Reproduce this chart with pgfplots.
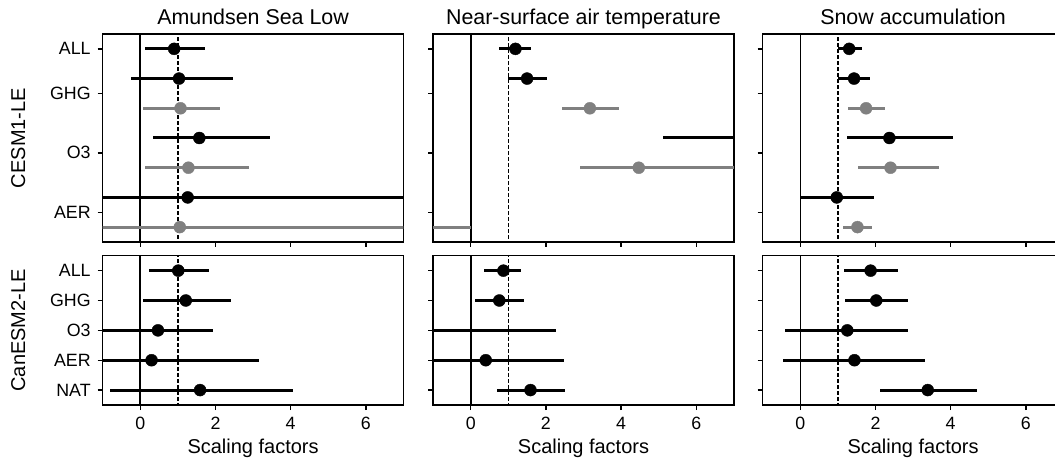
\documentclass[border=0pt]{standalone}
\usepackage{fontspec}
\setmainfont{Liberation Sans}
\usepackage{pgfplots}
\usepackage{pgfplotstable}
\pgfplotsset{compat=1.18}
\definecolor{gr}{RGB}{128,128,128}

% columns: y = row position, lo/hi = range, c = centre, m = marker (nan = not visible)
% ---- CESM1-LE, Amundsen Sea Low
\pgfplotstableread{
y lo c hi m
0 0.13 0.90 1.73 0.90
1 -0.25 1.03 2.47 1.03
3 0.35 1.57 3.45 1.57
5 -3 1.26 9 1.26
}\asltb
\pgfplotstableread{
y lo c hi m
2 0.06 1.07 2.13 1.07
4 0.13 1.28 2.88 1.28
6 -3 1.05 9 1.05
}\asltg
% ---- CESM1-LE, Near-surface air temperature
\pgfplotstableread{
y lo c hi m
0 0.76 1.19 1.61 1.19
1 1.00 1.50 2.02 1.50
3 5.12 7.5 9 nan
}\tastb
\pgfplotstableread{
y lo c hi m
2 2.44 3.17 3.94 3.17
4 2.92 4.47 9 4.47
6 -3 -1.5 0.00 nan
}\tastg
% ---- CESM1-LE, Snow accumulation
\pgfplotstableread{
y lo c hi m
0 0.99 1.30 1.63 1.30
1 0.99 1.43 1.85 1.43
3 1.25 2.37 4.07 2.37
5 0.00 0.97 1.95 0.97
}\snotb
\pgfplotstableread{
y lo c hi m
2 1.26 1.75 2.25 1.75
4 1.53 2.40 3.70 2.40
6 1.14 1.52 1.91 1.52
}\snotg
% ---- CanESM2-LE
\pgfplotstableread{
y lo c hi m
0 0.22 1.01 1.82 1.01
1 0.07 1.21 2.41 1.21
2 -3 0.47 1.94 0.47
3 -3 0.30 3.16 0.30
4 -0.80 1.59 4.06 1.59
}\aslbb
\pgfplotstableread{
y lo c hi m
0 0.36 0.87 1.35 0.87
1 0.12 0.76 1.42 0.76
2 -3 -1.5 2.27 nan
3 -3 0.40 2.47 0.40
4 0.70 1.59 2.50 1.59
}\tasbb
\pgfplotstableread{
y lo c hi m
0 1.17 1.87 2.59 1.87
1 1.20 2.02 2.87 2.02
2 -0.40 1.25 2.87 1.25
3 -0.46 1.44 3.32 1.44
4 2.13 3.39 4.70 3.39
}\snobb

\newcommand\bars[2]{%
  \addplot[only marks, mark=none, color=#1,
    error bars/.cd, x dir=both, x explicit, error mark=none,
    error bar style={draw=#1, line width=1.5pt}]
    table[x=c, y=y, x error plus expr=\thisrow{hi}-\thisrow{c},
          x error minus expr=\thisrow{c}-\thisrow{lo}] {#2};
  \addplot[only marks, mark=*, mark size=3pt, color=#1, mark options={solid, draw=#1, fill=#1, line width=0.2pt}]
    table[x=m, y=y] {#2};
}
\newcommand\refs{%
  \addplot[black, line width=0.8pt] coordinates {(0,-1) (0,8)};
  \addplot[black, line width=0.75pt, dash pattern=on 2pt off 1pt] coordinates {(1,-1) (1,8)};
}

\pgfplotsset{
  panel/.style={scale only axis, width=150.4pt, xmin=-1, xmax=7, xtick={0,2,4,6},
    y dir=reverse, axis line style={line width=0.7pt},
    tick style={line width=0.7pt, black}, major tick length=2.5pt, tick align=outside,
    xtick pos=bottom, ytick pos=left, clip=true,
    /pgf/number format/assume math mode=true,
    ticklabel style={font=\fontsize{8.9}{10}\selectfont},
    label style={font=\fontsize{8.8}{10}\selectfont},
    every axis title/.style={font=\fontsize{10.7}{12}\selectfont, at={(0.5,1)}, anchor=base, yshift=5pt},
    every axis x label/.style={at={(axis description cs:0.5,0)}, anchor=base, yshift=-24pt},
    every axis y label/.style={at={(axis description cs:-0.2583,0.5)}, anchor=base, rotate=90},
  },
  toprow/.style={panel, height=104pt, ymin=-0.5, ymax=6.5, ytick={0,1.5,3.5,5.5}, xticklabels={}},
  botrow/.style={panel, height=74.65pt, ymin=-0.5, ymax=4.5, ytick={0,1,2,3,4}, xlabel={Scaling factors}},
}

\begin{document}
\begin{tikzpicture}
\path[use as bounding box] (0,0) rectangle (527.5pt,-230.5pt);
% top row
\begin{axis}[toprow, at={(51.35pt,-17pt)}, anchor=north west, title={Amundsen Sea Low},
  yticklabels={ALL,GHG,O3,AER}, ylabel={CESM1-LE}]
\refs
\bars{black}{\asltb}
\bars{gr}{\asltg}
\end{axis}
\begin{axis}[toprow, at={(216.55pt,-17pt)}, anchor=north west, title={Near-surface air temperature},
  yticklabels={}]
\refs
\bars{black}{\tastb}
\bars{gr}{\tastg}
\end{axis}
\begin{axis}[toprow, at={(381.35pt,-17pt)}, anchor=north west, title={Snow accumulation},
  yticklabels={}]
\refs
\bars{black}{\snotb}
\bars{gr}{\snotg}
\end{axis}
% bottom row
\begin{axis}[botrow, at={(51.35pt,-127.85pt)}, anchor=north west,
  yticklabels={ALL,GHG,O3,AER,NAT}, ylabel={CanESM2-LE}]
\refs
\bars{black}{\aslbb}
\end{axis}
\begin{axis}[botrow, at={(216.55pt,-127.85pt)}, anchor=north west, yticklabels={}]
\refs
\bars{black}{\tasbb}
\end{axis}
\begin{axis}[botrow, at={(381.35pt,-127.85pt)}, anchor=north west, yticklabels={}]
\refs
\bars{black}{\snobb}
\end{axis}
\end{tikzpicture}
\end{document}
